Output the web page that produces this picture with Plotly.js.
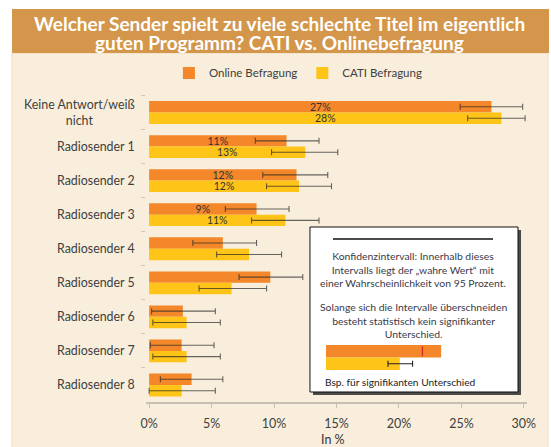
<!DOCTYPE html>
<html>
<head>
<meta charset="utf-8">
<script src="https://cdn.plot.ly/plotly-3.0.1.min.js"></script>
<style>html,body{margin:0;padding:0;background:#fff;}#chart{width:551px;height:447px;}</style>
</head>
<body>
<div id="chart"></div>
<script>
// ---- data ----
const titleLines = ["Welcher Sender spielt zu viele schlechte Titel im eigentlich",
  "guten Programm? CATI vs. Onlinebefragung"];
const xAxisTitle = "In %";
const categories = ["Keine Antwort/weiß nicht", "Radiosender 1", "Radiosender 2", "Radiosender 3",
  "Radiosender 4", "Radiosender 5", "Radiosender 6", "Radiosender 7", "Radiosender 8"];
const categoryLabels = ["Keine Antwort/weiß<br>nicht", "Radiosender 1", "Radiosender 2", "Radiosender 3",
  "Radiosender 4", "Radiosender 5", "Radiosender 6", "Radiosender 7", "Radiosender 8"];
const onlineValues = [27.4, 11.0, 11.8, 8.6, 5.9, 9.7, 2.7, 2.6, 3.4];
const catiValues   = [28.2, 12.5, 12.0, 10.9, 8.0, 6.6, 3.0, 3.0, 2.6];
const onlineText = ["27%", "11%", "12%", "9%", "", "", "", "", ""];
const catiText   = ["28%", "13%", "12%", "11%", "", "", "", "", ""];
const onlineLow  = [24.9, 8.5, 9.1, 6.1, 3.5, 7.2, 0.2, 0.1, 0.9];
const onlineHigh = [29.9, 13.6, 14.3, 11.2, 8.6, 12.3, 5.3, 5.2, 5.9];
const catiLow    = [25.5, 9.8, 9.4, 8.2, 5.4, 4.0, 0.3, 0.3, 0.0];
const catiHigh   = [30.1, 15.1, 14.6, 13.6, 10.6, 9.4, 5.7, 5.7, 5.3];
const xTicks = [0, 5, 10, 15, 20, 25, 30];
const seriesNames = ["Online Befragung", "CATI Befragung"];
// example inside the info box
const exampleCats = ["Online", "CATI"];
const exampleValues = [9.36, 6.0];
const exampleLow = [7.84, 5.04];
const exampleHigh = [null, 7.04];

const ORANGE = "#f3872a", YELLOW = "#fec417";
const FONT = "Lato, 'Open Sans', sans-serif";

const errStyle = {type: "data", symmetric: false, color: "rgba(40,40,40,0.7)", thickness: 1.1, width: 3};

const traces = [
  {type: "bar", orientation: "h", name: seriesNames[0], y: categories, x: onlineValues,
   marker: {color: ORANGE}, text: onlineText, textposition: "inside", insidetextanchor: "middle",
   constraintext: "none", textfont: {color: "#333", size: 10.5, family: FONT},
   error_x: Object.assign({}, errStyle, {array: onlineHigh.map((h, i) => h - onlineValues[i]),
     arrayminus: onlineLow.map((l, i) => onlineValues[i] - l)}),
   hoverinfo: "skip"},
  {type: "bar", orientation: "h", name: seriesNames[1], y: categories, x: catiValues,
   marker: {color: YELLOW}, text: catiText, textposition: "inside", insidetextanchor: "middle",
   constraintext: "none", textfont: {color: "#333", size: 10.5, family: FONT},
   error_x: Object.assign({}, errStyle, {array: catiHigh.map((h, i) => h - catiValues[i]),
     arrayminus: catiLow.map((l, i) => catiValues[i] - l)}),
   hoverinfo: "skip"},
  {type: "bar", orientation: "h", y: exampleCats, x: exampleValues, xaxis: "x2", yaxis: "y2",
   width: [1, 1], marker: {color: [ORANGE, YELLOW]}, showlegend: false, hoverinfo: "skip",
   error_x: Object.assign({}, errStyle, {color: "#222",
     array: exampleHigh.map((h, i) => h === null ? NaN : h - exampleValues[i]),
     arrayminus: exampleLow.map((l, i) => exampleHigh[i] === null ? NaN : exampleValues[i] - l)})},
  {type: "scatter", mode: "markers", x: [exampleLow[0]], y: [exampleCats[0]], xaxis: "x2", yaxis: "y2",
   marker: {symbol: "line-ns-open", size: 7, line: {color: "#222", width: 1.3}},
   showlegend: false, hoverinfo: "skip"}
];

// plot area: x 146..527 px, y 95..402 px
const annotations = categories.map((c, i) => ({
  xref: "paper", yref: "y", x: -0.024, y: c, xanchor: "right", yanchor: "middle", align: "center",
  text: categoryLabels[i], showarrow: false, font: {family: FONT, size: 12.4, color: "#404040"}
}));
annotations.push(
  {xref: "paper", yref: "paper", x: 0.351, y: 1.2330, xanchor: "center", yanchor: "middle",
   showarrow: false, font: {family: FONT, size: 19, color: "#ffffff"},
   text: "<b>" + titleLines[0] + "</b>"},
  {xref: "paper", yref: "paper", x: 0.351, y: 1.1700, xanchor: "center", yanchor: "middle",
   showarrow: false, font: {family: FONT, size: 19, color: "#ffffff"},
   text: "<b>" + titleLines[1] + "</b>"},
  {xref: "paper", yref: "paper", x: 0.49, y: -0.1215, xanchor: "center", yanchor: "middle",
   showarrow: false, font: {family: FONT, size: 12.5, color: "#333"}, text: xAxisTitle},
  {xref: "paper", yref: "paper", x: 0.7008, y: 0.4332, xanchor: "center", yanchor: "middle", align: "center",
   showarrow: false, font: {family: FONT, size: 10.4, color: "#3a3a4a"},
   text: "Konfidenzintervall: Innerhalb dieses<br>Intervalls liegt der \u201ewahre Wert\u201c mit<br>einer Wahrscheinlichkeit von 95 Prozent."},
  {xref: "paper", yref: "paper", x: 0.7008, y: 0.2671, xanchor: "center", yanchor: "middle", align: "center",
   showarrow: false, font: {family: FONT, size: 10.4, color: "#3a3a4a"},
   text: "Solange sich die Intervalle überschneiden<br>besteht statistisch kein signifikanter<br>Unterschied."},
  {xref: "paper", yref: "paper", x: 0.4646, y: 0.0651, xanchor: "left", yanchor: "middle",
   showarrow: false, font: {family: FONT, size: 10.2, color: "#222"},
   text: "Bsp. für signifikanten Unterschied"}
);

const shapes = [
  {type: "rect", xref: "paper", yref: "paper", x0: -0.3517, x1: 1.0551, y0: -0.3, y1: 1.1368,
   fillcolor: "#f9eedb", line: {color: "#ecdcbf", width: 1}, layer: "below"},
  {type: "rect", xref: "paper", yref: "paper", x0: -0.3517, x1: 1.0577, y0: 1.1368, y1: 1.2801,
   fillcolor: "#d4964b", line: {width: 0}, layer: "below"},
  {type: "rect", xref: "paper", yref: "paper", x0: 0.4383, x1: 0.9843, y0: 0.0228, y1: 0.5603,
   fillcolor: "#4a4a4a", line: {width: 0}, layer: "below"},
  {type: "rect", xref: "paper", yref: "paper", x0: 0.4304, x1: 0.9764, y0: 0.0326, y1: 0.5700,
   fillcolor: "#ffffff", line: {color: "#111", width: 1}, layer: "below"},
  {type: "line", xref: "paper", yref: "paper", x0: 0.4908, x1: 0.9108, y0: 0.5309, y1: 0.5309,
   line: {color: "#111", width: 1.5}}
];

const layout = {
  width: 551, height: 447,
  margin: {l: 146, r: 24, t: 95, b: 45},
  paper_bgcolor: "#ffffff", plot_bgcolor: "rgba(0,0,0,0)",
  font: {family: FONT, color: "#404040"},
  barmode: "group", bargap: 0.33, bargroupgap: 0,
  showlegend: true,
  legend: {orientation: "h", x: 0.40, xanchor: "center", y: 1.0717, yanchor: "middle",
    font: {family: FONT, size: 11.5, color: "#404040"}, bgcolor: "rgba(0,0,0,0)", itemwidth: 30},
  xaxis: {range: [-0.25, 30.25], tickvals: xTicks, ticktext: xTicks.map(v => v + "%"),
    showgrid: false, zeroline: false, showline: true, linecolor: "#c8c0b4", linewidth: 1.5,
    ticks: "outside", ticklen: 4, tickcolor: "#c8c0b4", ticklabelstandoff: 5,
    tickfont: {family: FONT, size: 12.5, color: "#404040"}},
  yaxis: {type: "category", categoryarray: categories, autorange: "reversed",
    showticklabels: false, showgrid: false, zeroline: false, showline: false,
    ticks: "outside", tickson: "boundaries", ticklen: 4, tickcolor: "#cfc6b8"},
  xaxis2: {domain: [0.4724, 0.7953], range: [0, 10], anchor: "y2", visible: false, fixedrange: true},
  yaxis2: {domain: [0.1042, 0.1857], anchor: "x2", type: "category", categoryarray: exampleCats,
    autorange: "reversed", visible: false, fixedrange: true},
  annotations: annotations,
  shapes: shapes
};

Plotly.newPlot("chart", traces, layout, {displayModeBar: false, staticPlot: true});
</script>
</body>
</html>
